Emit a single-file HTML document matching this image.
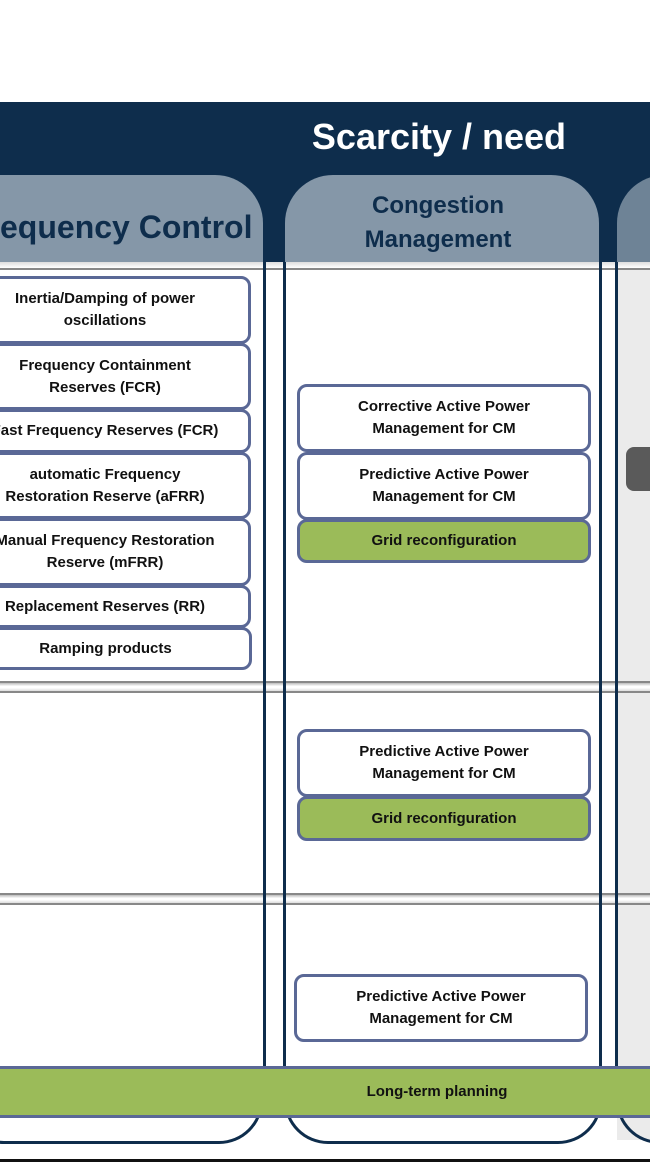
<!DOCTYPE html>
<html><head><meta charset="utf-8"><style>
*{margin:0;padding:0;box-sizing:border-box}
body{width:650px;height:1167px;position:relative;overflow:hidden;background:#fff;font-family:"Liberation Sans",Arial,sans-serif}
.a{position:absolute}
.box{position:absolute;border:3px solid #5a6896;border-radius:10px;background:#fff;display:flex;align-items:center;justify-content:center;text-align:center;font-weight:bold;font-size:15px;line-height:22px;color:#111}
.g{background:#9bbb59}
.vl{position:absolute;width:3px;background:#0e2d4c}
.sep{position:absolute;left:0;width:650px;height:12px;border-top:2px solid #888;border-bottom:2px solid #888;background:linear-gradient(#bbb,#fff 40%,#fff 60%,#ddd)}
</style></head><body>
<div class="a" style="left:0;top:102px;width:650px;height:160px;background:#0e2d4c"></div>
<div class="a" style="left:0;top:115px;width:878px;text-align:center;color:#fff;font-weight:bold;font-size:36px;line-height:44px">Scarcity / need</div>
<div class="a" style="left:-40px;top:175px;width:303px;height:87px;background:#8597a8;border-radius:0 48px 0 0"></div>
<div class="a" style="left:0;top:203px;width:248px;text-align:right;color:#0e2d4c;font-weight:bold;font-size:32px;line-height:48px;white-space:nowrap">equency Control</div>
<div class="a" style="left:285px;top:175px;width:314px;height:87px;background:#8597a8;border-radius:48px 48px 0 0"></div>
<div class="a" style="left:285px;top:189px;width:306px;text-align:center;color:#0e2d4c;font-weight:bold;font-size:24px;line-height:34px">Congestion<br>Management</div>
<div class="a" style="left:617px;top:175px;width:60px;height:87px;background:#6e8396;border-radius:48px 0 0 0"></div>
<div class="a" style="left:0;top:262px;width:650px;height:6px;background:linear-gradient(#ddd,#fff)"></div>
<div class="a" style="left:0;top:268px;width:650px;height:2px;background:#888"></div>
<div class="a" style="left:617px;top:270px;width:40px;height:870px;background:#ebebeb"></div>
<div class="sep" style="top:681px"></div>
<div class="sep" style="top:893px"></div>
<div class="a" style="left:-40px;top:1080px;width:303px;height:64px;border:3px solid #0e2d4c;border-top:none;border-radius:0 0 44px 44px"></div>
<div class="a" style="left:284px;top:1080px;width:318px;height:64px;border:3px solid #0e2d4c;border-top:none;border-radius:0 0 44px 44px"></div>
<div class="a" style="left:616px;top:1080px;width:60px;height:64px;border:3px solid #0e2d4c;border-top:none;border-right:none;border-radius:0 0 0 44px;background:#ebebeb"></div>
<div class="vl" style="left:263px;top:262px;height:820px"></div>
<div class="vl" style="left:283px;top:262px;height:820px"></div>
<div class="vl" style="left:599px;top:262px;height:820px"></div>
<div class="vl" style="left:615px;top:262px;height:820px"></div>
<div class="a" style="left:0;top:1159px;width:650px;height:3px;background:#111"></div>

<div class="box" style="left:-41px;top:276px;width:292px;height:68px">Inertia/Damping of power<br>oscillations</div>
<div class="box" style="left:-41px;top:343px;width:292px;height:67px">Frequency Containment<br>Reserves (FCR)</div>
<div class="box" style="left:-41px;top:409px;width:292px;height:44px">Fast Frequency Reserves (FCR)</div>
<div class="box" style="left:-41px;top:452px;width:292px;height:67px">automatic Frequency<br>Restoration Reserve (aFRR)</div>
<div class="box" style="left:-41px;top:518px;width:292px;height:68px">Manual Frequency Restoration<br>Reserve (mFRR)</div>
<div class="box" style="left:-41px;top:585px;width:292px;height:43px">Replacement Reserves (RR)</div>
<div class="box" style="left:-41px;top:627px;width:293px;height:43px">Ramping products</div>

<div class="box" style="left:297px;top:384px;width:294px;height:68px">Corrective Active Power<br>Management for CM</div>
<div class="box" style="left:297px;top:452px;width:294px;height:68px">Predictive Active Power<br>Management for CM</div>
<div class="box g" style="left:297px;top:519px;width:294px;height:44px">Grid reconfiguration</div>
<div class="box" style="left:297px;top:729px;width:294px;height:68px">Predictive Active Power<br>Management for CM</div>
<div class="box g" style="left:297px;top:796px;width:294px;height:45px">Grid reconfiguration</div>
<div class="box" style="left:294px;top:974px;width:294px;height:68px">Predictive Active Power<br>Management for CM</div>
<div class="a" style="left:626px;top:447px;width:40px;height:44px;background:#5a5a5a;border-radius:8px"></div>

<div class="box g" style="left:-10px;top:1066px;width:670px;height:52px;border-radius:0;border-left:none;border-right:none;padding-left:20px;justify-content:flex-start"><span style="position:absolute;left:0;width:894px;text-align:center">Long-term planning</span></div>
</body></html>
